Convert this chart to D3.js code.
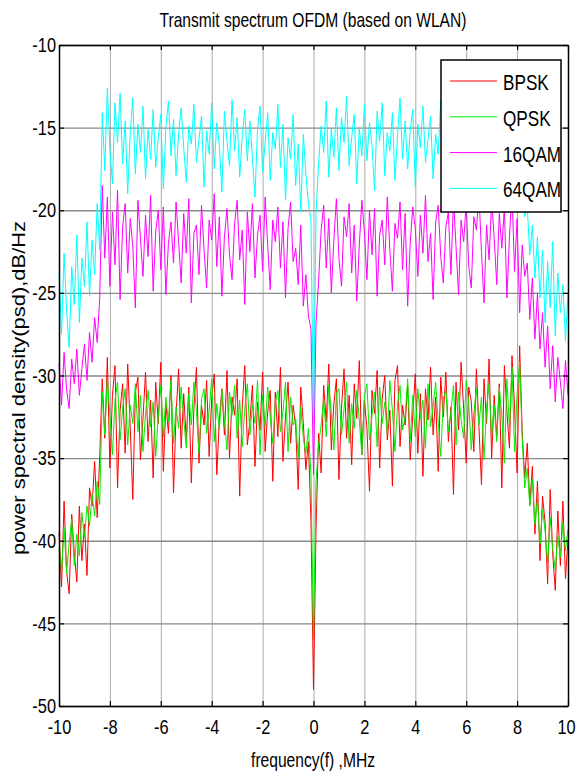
<!DOCTYPE html>
<html>
<head>
<meta charset="utf-8">
<script src="https://cdn.jsdelivr.net/npm/d3@7"></script>
<style>
  body { margin: 0; background: #fff; }
  text { font-family: "Liberation Sans", Arial, sans-serif; fill: #000; }
</style>
</head>
<body>
<svg id="graph" width="576" height="773"></svg>
<script>
  var svg = d3.select("#graph");

  // sample grid of the spectrum (MHz)
  var freqStart = -10;
  var freqStep = 0.1;

  var xTicks = [-10, -8, -6, -4, -2, 0, 2, 4, 6, 8, 10];
  var yTicks = [-50, -45, -40, -35, -30, -25, -20, -15, -10];

  var seriesNames = ["BPSK", "QPSK", "16QAM", "64QAM"];
  var colors = {"BPSK": "#ff0000", "QPSK": "#00ee00", "16QAM": "#ff00ff", "64QAM": "#00ffff"};

  // psd values, dB/Hz, one per 0.1 MHz from -10 to 10
  var bpsk = [
    -39.5, -42.8, -37.6, -41.9, -43.2, -38.4, -40.7, -42.5, -37.9, -41.2, -39.0, -42.1, -36.8, -37.9, -35.2, -38.6, -34.9,
    -30.2, -33.8, -28.9, -35.6, -31.2, -29.4, -36.8, -32.1, -30.5, -34.7,
    -29.3, -33.2, -37.5, -31.0, -30.1, -35.1, -32.6, -29.8, -34.0, -31.5,
    -36.2, -30.4, -32.9, -29.2, -35.8, -31.7, -33.5, -30.0, -37.1, -32.3,
    -29.6, -34.4, -31.1, -33.9, -30.7, -36.5, -32.0, -29.5, -35.3, -31.8,
    -33.0, -30.3, -34.9, -31.4, -29.9, -36.0, -32.7, -30.8, -33.6, -29.7,
    -35.0, -31.3, -32.4, -30.2, -37.3, -31.9, -29.4, -34.2, -32.8, -30.6,
    -35.5, -31.6, -33.3, -29.8, -34.6, -32.2, -30.9, -36.4, -31.0, -33.7,
    -29.5, -35.2, -32.5, -30.4, -34.1, -31.8, -33.1, -36.9, -30.7, -32.9,
    -35.7, -34.0,
    -38.8, -49.0, -39.2,
    -33.5, -35.9, -30.6, -32.8, -29.3, -34.5, -31.7, -30.2, -36.3, -32.0,
    -29.6, -33.8, -31.2, -35.4, -30.5, -32.6, -29.1, -34.8, -31.5, -33.2,
    -37.0, -30.9, -32.3, -29.7, -35.6, -31.4, -30.0, -33.9, -32.1, -36.7,
    -30.3, -29.4, -34.3, -31.8, -33.0, -30.6, -35.1, -32.4, -29.9, -34.7,
    -31.1, -36.1, -30.8, -32.7, -29.5, -33.6, -31.3, -35.8, -30.1, -32.5,
    -29.8, -34.0, -31.9, -37.2, -30.4, -33.3, -29.2, -32.0, -35.3, -30.7,
    -31.6, -34.6, -29.6, -33.1, -36.6, -30.2, -32.9, -29.0, -35.0, -31.2,
    -33.7, -30.5, -36.8, -29.4, -32.2, -34.4, -28.8, -31.9, -35.9, -28.2,
    -33.4, -36.2,
    -34.1, -37.8, -35.5, -39.6, -36.4, -41.2, -37.3, -38.9, -42.6, -36.9, -40.8, -43.0, -38.2, -41.5, -37.6, -42.3, -39.9
  ];

  var qpsk = [
    -40.5, -41.8, -39.2, -42.0, -40.1, -38.7, -41.5, -39.6, -40.9, -38.3, -39.8, -37.9, -39.1, -37.2, -38.5, -36.4, -37.8,
    -31.0, -33.6, -30.2, -32.4, -34.8, -31.5, -30.4, -33.9, -32.0, -30.8,
    -34.2, -31.8, -32.9, -30.5, -33.4, -31.2, -34.6, -32.3, -30.9, -33.1,
    -31.6, -34.9, -32.5, -30.6, -33.7, -31.3, -32.8, -30.3, -34.1, -31.9,
    -33.2, -30.7, -32.6, -34.4, -31.1, -33.0, -30.4, -32.2, -34.7, -31.4,
    -30.8, -33.5, -32.1, -30.2, -34.0, -31.7, -33.3, -30.9, -32.7, -34.5,
    -31.0, -32.4, -30.6, -33.8, -31.5, -34.3, -32.0, -30.5, -33.6, -31.8,
    -32.9, -30.3, -34.8, -31.2, -33.1, -30.7, -32.5, -34.1, -31.6, -30.9,
    -33.4, -32.2, -30.4, -34.6, -31.3, -33.0, -32.6, -35.0, -31.9, -33.8,
    -34.7, -33.2,
    -36.0, -46.0, -36.4,
    -34.2, -33.0, -31.4, -33.7, -30.6, -32.3, -34.5, -31.1, -30.8, -33.6,
    -32.0, -30.4, -34.1, -31.7, -33.2, -30.9, -32.7, -34.8, -31.3, -30.5,
    -33.9, -32.4, -31.0, -34.3, -30.7, -32.9, -31.6, -33.5, -30.3, -32.1,
    -34.6, -31.8, -30.6, -33.3, -32.5, -30.2, -34.0, -31.2, -33.7, -30.8,
    -32.6, -31.5, -34.4, -30.5, -33.1, -31.9, -30.4, -32.8, -34.9, -31.4,
    -30.9, -33.4, -32.2, -30.6, -34.2, -31.0, -32.7, -33.8, -30.3, -31.7,
    -34.5, -32.3, -30.8, -33.0, -31.3, -35.1, -32.0, -30.5, -33.6, -31.8,
    -34.0, -30.7, -32.4, -35.3, -30.2, -33.2, -29.5, -34.6, -31.1, -29.2,
    -33.8, -36.8,
    -35.6, -37.9, -36.3, -39.0, -37.5, -40.2, -38.1, -39.4, -41.3, -38.6, -40.5, -41.8, -39.7, -41.0, -38.9, -40.6, -39.3
  ];

  var qam16 = [
    -29.3, -31.8, -28.6, -30.9, -32.0, -29.0, -30.5, -28.4, -31.2, -29.6, -28.1, -30.3, -27.4, -29.2, -26.5, -28.0, -25.3,
    -18.5, -22.9, -19.2, -24.6, -20.1, -23.3, -18.8, -25.4, -21.0, -19.6,
    -23.8, -20.5, -22.2, -25.9, -19.4, -21.7, -24.0, -20.3, -22.8, -19.1,
    -24.9, -21.3, -20.0, -23.6, -19.8, -25.1, -22.0, -20.7, -23.2, -19.5,
    -21.9, -24.4, -20.2, -22.6, -19.3, -25.6, -21.4, -20.9, -23.9, -19.7,
    -22.4, -24.7, -20.6, -21.8, -19.0, -23.4, -20.4, -25.2, -21.6, -19.9,
    -22.7, -24.2, -20.8, -19.4, -23.0, -21.2, -25.7, -20.1, -22.5, -19.6,
    -24.1, -21.5, -20.3, -23.7, -19.2, -22.1, -24.8, -20.6, -21.9, -19.8,
    -23.5, -20.7, -25.3, -21.1, -19.5, -23.1, -22.3, -24.5, -20.9, -25.8,
    -23.9, -26.4,
    -27.2, -36.0, -26.8,
    -24.3, -21.2, -19.7, -23.5, -20.5, -25.0, -21.8, -19.3, -22.9, -24.6,
    -20.4, -21.6, -19.6, -23.8, -20.9, -25.5, -22.1, -19.4, -21.3, -24.2,
    -20.0, -22.7, -19.9, -25.2, -21.5, -20.6, -23.3, -19.2, -22.4, -24.9,
    -20.8, -21.7, -19.5, -23.6, -20.2, -25.8, -22.0, -19.8, -21.1, -24.0,
    -20.3, -22.6, -19.1, -23.1, -21.4, -25.4, -20.7, -19.7, -22.8, -24.4,
    -21.0, -20.1, -23.9, -19.3, -22.2, -25.1, -20.6, -21.9, -19.6, -23.4,
    -24.7, -20.4, -21.2, -19.0, -22.5, -25.6, -20.9, -23.0, -19.4, -21.7,
    -24.5, -20.2, -22.3, -19.8, -25.3, -21.6, -18.9, -23.7, -20.5, -26.2,
    -22.1, -24.0,
    -23.2, -26.6, -24.1, -27.8, -25.0, -28.4, -26.2, -29.5, -27.0, -30.8, -28.2, -31.6, -28.9, -30.4, -32.0, -29.1, -31.2
  ];

  var qam64 = [
    -23.8, -27.5, -22.6, -26.1, -28.3, -23.4, -25.7, -21.5, -26.8, -22.9, -24.6, -20.7, -25.2, -21.8, -23.9, -19.6, -22.4,
    -14.1, -17.6, -12.6, -16.3, -18.4, -13.5, -15.9, -12.9, -17.2, -14.6,
    -19.0, -15.3, -13.2, -17.8, -14.8, -16.5, -13.7, -18.1, -15.1, -16.9,
    -13.9, -17.4, -15.6, -14.2, -18.7, -15.0, -13.4, -16.7, -14.5, -17.9,
    -15.4, -13.8, -16.2, -18.3, -14.9, -16.0, -13.6, -17.1, -15.7, -14.3,
    -18.6, -15.2, -16.6, -13.5, -17.5, -14.7, -16.1, -18.9, -14.0, -15.8,
    -17.3, -13.3, -16.4, -14.4, -18.0, -15.5, -13.9, -17.0, -14.6, -16.8,
    -19.2, -15.1, -13.7, -17.7, -15.9, -14.1, -18.2, -15.3, -16.3, -13.6,
    -17.4, -14.8, -19.4, -15.6, -16.9, -14.2, -18.5, -16.0, -20.1, -15.4,
    -17.8, -19.6,
    -20.6, -33.0, -20.2,
    -17.2, -14.9, -16.5, -13.4, -18.0, -15.1, -16.8, -13.8, -17.6, -14.4,
    -15.9, -13.1, -17.3, -15.6, -14.2, -18.4, -15.0, -16.7, -13.6, -17.0,
    -14.7, -16.1, -18.8, -14.0, -15.8, -13.5, -17.9, -15.3, -16.4, -14.1,
    -18.2, -15.5, -13.2, -16.9, -14.6, -17.5, -15.2, -13.9, -18.6, -14.8,
    -16.2, -13.7, -17.1, -15.7, -14.3, -18.1, -15.4, -16.6, -13.3, -17.7,
    -14.5, -16.0, -19.0, -14.9, -15.6, -13.0, -17.4, -16.3, -14.1, -18.3,
    -15.0, -13.6, -16.8, -14.7, -17.8, -15.3, -13.8, -18.5, -16.1, -14.4,
    -17.2, -15.8, -13.5, -18.9, -15.1, -16.6, -14.0, -17.6, -19.3, -15.5,
    -18.0, -20.4,
    -19.8, -22.7, -20.9, -24.1, -21.6, -25.3, -22.4, -26.8, -23.1, -25.9, -21.9, -27.6, -23.8, -26.2, -24.5, -27.9, -25.0
  ];

  var series = {"BPSK": bpsk, "QPSK": qpsk, "16QAM": qam16, "64QAM": qam64};

  // plot box
  var plotL = 59, plotR = 568, plotT = 45, plotB = 706;
  var squeeze = 0.78;  // the picture's text is narrow and tall

  var x = d3.scaleLinear().domain([-10, 10]).range([plotL, plotR]);
  var y = d3.scaleLinear().domain([-50, -10]).range([plotB, plotT]);

  // plain hyphen minus, like the original
  function fmt(d) { return String(d); }

  // grid lines
  svg.append("g").attr("class", "xgrid")
    .attr("transform", "translate(0," + plotB + ")")
    .call(d3.axisBottom(x).tickValues(xTicks).tickSize(-(plotB - plotT)).tickSizeOuter(0).tickFormat(""))
    .call(function(g) {
      g.select(".domain").remove();
      g.selectAll("line").attr("stroke", "#ababab").attr("stroke-width", 1);
    });

  svg.append("g").attr("class", "ygrid")
    .attr("transform", "translate(" + plotL + ",0)")
    .call(d3.axisLeft(y).tickValues(yTicks).tickSize(-(plotR - plotL)).tickSizeOuter(0).tickFormat(""))
    .call(function(g) {
      g.select(".domain").remove();
      g.selectAll("line").attr("stroke", "#8a8a8a").attr("stroke-width", 1.3);
    });

  // spectrum lines
  var line = d3.line()
    .x(function(d, i) { return x(freqStart + i * freqStep); })
    .y(function(d) { return y(d); });

  seriesNames.forEach(function(name) {
    svg.append("path")
      .datum(series[name])
      .attr("fill", "none")
      .attr("stroke", colors[name])
      .attr("stroke-width", 1)
      .attr("stroke-linejoin", "round")
      .attr("d", line);
  });

  // axes with inward ticks on all four sides
  var xAxis = svg.append("g")
    .attr("transform", "translate(0," + plotB + ")")
    .call(d3.axisBottom(x).tickValues(xTicks).tickFormat(fmt).tickSize(-5).tickSizeOuter(0).tickPadding(0));
  xAxis.selectAll("text")
    .attr("y", 0)
    .attr("transform", function(d) {
      // last label sits flush with the right edge
      var dx = d == 10 ? -2 : 0;
      return "translate(" + dx + ",13) scale(" + squeeze + ",1)";
    })
    .style("font-size", "21px");

  var yAxis = svg.append("g")
    .attr("transform", "translate(" + plotL + ",0)")
    .call(d3.axisLeft(y).tickValues(yTicks).tickFormat(fmt).tickSize(-5).tickSizeOuter(0).tickPadding(0));
  yAxis.selectAll("text")
    .attr("x", 0)
    .attr("transform", "translate(-3,0) scale(" + squeeze + ",1)")
    .style("font-size", "21px");

  svg.append("g")
    .attr("transform", "translate(0," + plotT + ")")
    .call(d3.axisTop(x).tickValues(xTicks).tickSize(-5).tickSizeOuter(0).tickFormat(""));
  svg.append("g")
    .attr("transform", "translate(" + plotR + ",0)")
    .call(d3.axisRight(y).tickValues(yTicks).tickSize(-5).tickSizeOuter(0).tickFormat(""));

  svg.selectAll(".domain").attr("stroke", "#000").attr("stroke-width", 1.5);
  svg.selectAll(".tick line").filter(function() { return !this.closest(".xgrid") && !this.closest(".ygrid"); })
    .attr("stroke", "#000").attr("stroke-width", 1.2);

  // legend
  var leg = svg.append("g").attr("transform", "translate(441,60)");
  leg.append("rect")
    .attr("width", 120).attr("height", 152)
    .attr("fill", "#fff").attr("stroke", "#000").attr("stroke-width", 1.5);

  var legRows = leg.selectAll(".legRow").data(seriesNames).enter()
    .append("g").attr("class", "legRow")
    .attr("transform", function(d, i) { return "translate(0," + (21 + i * 35.8) + ")"; });
  legRows.append("line")
    .attr("x1", 9).attr("x2", 56)
    .attr("stroke", function(d) { return colors[d]; })
    .attr("stroke-width", 1);
  legRows.append("text")
    .attr("transform", "translate(62,9) scale(" + squeeze + ",1)")
    .style("font-size", "22px")
    .text(function(d) { return d; });

  // titles
  svg.append("text")
    .attr("transform", "translate(313,27) scale(" + squeeze + ",1)")
    .attr("text-anchor", "middle")
    .style("font-size", "20px")
    .text("Transmit spectrum OFDM (based on WLAN)");

  svg.append("text")
    .attr("transform", "translate(313,767) scale(" + squeeze + ",1)")
    .attr("text-anchor", "middle")
    .style("font-size", "20px")
    .text("frequency(f) ,MHz");

  svg.append("text")
    .attr("transform", "translate(25,388) rotate(-90) scale(1.22,1)")
    .attr("text-anchor", "middle")
    .style("font-size", "18px")
    .text("power spectral density(psd),dB/Hz");
</script>
</body>
</html>
